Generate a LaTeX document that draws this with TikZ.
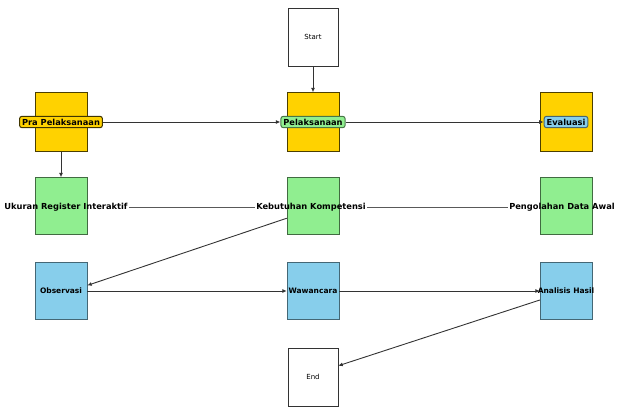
\documentclass[tikz,border=0pt]{standalone}
\usepackage{fontspec}
\setmainfont{DejaVu Sans}
\usetikzlibrary{arrows.meta}
\definecolor{kuning}{HTML}{FFD200}
\definecolor{hijau}{HTML}{90EE90}
\definecolor{biru}{HTML}{87CEEB}
\begin{document}
\begin{tikzpicture}[x=1pt, y=1pt,
  every node/.style = {font=\fontsize{8.3}{10}\selectfont\bfseries, inner sep=1pt},
  tahap/.style = {draw=black!70!kuning, fill=kuning, minimum width=52pt, minimum height=59pt},
  langkah/.style = {draw=black!55!hijau, fill=hijau, minimum width=52pt, minimum height=57pt},
  metode/.style = {draw=black!50!biru, fill=biru, minimum width=52pt, minimum height=57pt},
  batas/.style = {draw=black!80, fill=white, minimum width=50pt, minimum height=58pt,
    font=\fontsize{7}{8}\selectfont},
  tag/.style = {draw, rounded corners=2.5pt, inner sep=2.5pt, line width=1pt},
  kecil/.style = {font=\fontsize{7.5}{9}\selectfont\bfseries, inner sep=0pt},
  panah/.style = {draw=black!80, line width=0.9pt, -{Latex[length=4.5pt,width=4pt]}},
  garis/.style = {draw=black!65, line width=0.8pt}]
  \useasboundingbox (0,0) rectangle (617,407);

  % start dan selesai
  \node[batas] (start) at (313,370) {Start};
  \node[batas] (end) at (313,30) {End};

  % tahapan
  \node[tahap] (pra) at (61,285) {};
  \node[tahap] (pel) at (313,285) {};
  \node[tahap] (eva) at (566,285) {};
  \node[tag, draw=black!75!kuning, fill=kuning] (praL) at (pra) {Pra Pelaksanaan};
  \node[tag, draw=black!50!hijau, fill=hijau] (pelL) at (pel) {Pelaksanaan};
  \node[tag, draw=black!50!biru, fill=biru] (evaL) at (eva) {Evaluasi};

  % langkah
  \node[langkah] (ukr) at (61,201) {};
  \node[langkah] (keb) at (313,201) {};
  \node[langkah] (pgl) at (566,201) {};
  \node (ukrL) at (66,200) {Ukuran Register Interaktif};
  \node (kebL) at (311,200) {Kebutuhan Kompetensi};
  \node (pglL) at (562,200) {Pengolahan Data Awal};

  % metode
  \node[metode] (obs) at (61,116) {};
  \node[metode] (waw) at (313,116) {};
  \node[metode] (ana) at (566,116) {};
  \node[kecil] (obsL) at (obs) {Observasi};
  \node[kecil] (wawL) at (waw) {Wawancara};
  \node[kecil] (anaL) at (ana) {Analisis Hasil};

  \draw[panah] (start) -- (pel);
  \draw[panah] (praL) -- (pelL);
  \draw[panah] (pelL) -- (evaL);
  \draw[panah] (pra) -- (ukr);
  \draw[garis] (ukrL) -- (kebL);
  \draw[garis] (kebL) -- (pglL);
  \draw[panah] (keb.-155) -- (obs.12);
  \draw[panah] (obs) -- (waw);
  \draw[panah] (waw) -- (ana);
  \draw[panah] (ana.-161) -- (end.24);
\end{tikzpicture}
\end{document}
